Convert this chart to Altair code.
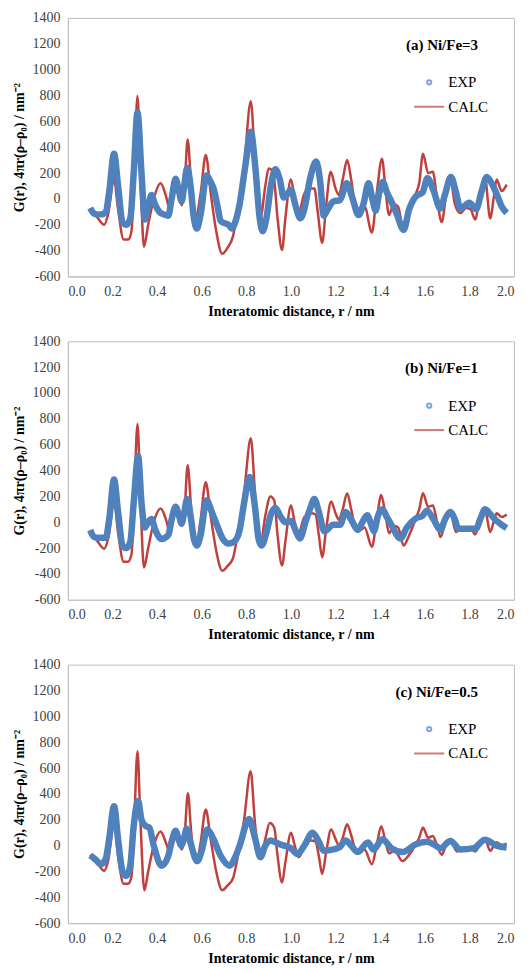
import altair as alt
import pandas as pd

# ---------------- data ----------------
x_ticks = [0.0, 0.2, 0.4, 0.6, 0.8, 1.0, 1.2, 1.4, 1.6, 1.8, 2.0]
y_ticks = [-600, -400, -200, 0, 200, 400, 600, 800, 1000, 1200, 1400]
series_names = ["EXP", "CALC"]
panel_labels = ["(a) Ni/Fe=3", "(b) Ni/Fe=1", "(c) Ni/Fe=0.5"]

# Panel (a) Ni/Fe=3
a_calc_r = [0.10, 0.13, 0.163, 0.18, 0.207, 0.225, 0.25, 0.27, 0.285, 0.295, 0.312, 0.325, 0.341, 0.36, 0.385, 0.416, 0.44, 0.457, 0.475, 0.49, 0.51, 0.522, 0.537, 0.553, 0.575, 0.595, 0.618, 0.64, 0.665, 0.692, 0.715, 0.74, 0.76, 0.79, 0.82, 0.84, 0.865, 0.885, 0.9, 0.92, 0.94, 0.96, 0.975, 1.0, 1.017, 1.035, 1.06, 1.08, 1.105, 1.12, 1.14, 1.158, 1.178, 1.2, 1.215, 1.232, 1.252, 1.27, 1.29, 1.31, 1.33, 1.363, 1.385, 1.408, 1.425, 1.44, 1.46, 1.48, 1.505, 1.53, 1.56, 1.575, 1.592, 1.615, 1.636, 1.655, 1.676, 1.695, 1.714, 1.735, 1.76, 1.785, 1.805, 1.826, 1.848, 1.87, 1.893, 1.91, 1.922, 1.945, 1.967]
a_calc_g = [-80, -140, -200, -120, 150, -80, -315, -315, -250, 50, 795, 200, -370, -200, 0, 120, 20, -80, 60, 110, -50, 60, 460, 100, -125, 40, 340, 50, -250, -425, -380, -290, -100, 250, 755, 250, -130, 100, 235, 210, -150, -395, -150, 150, 0, -100, 40, 80, 80, -100, -340, -50, 210, 80, 30, 150, 300, 150, -60, -80, -60, -260, 50, 310, 50, -125, -40, -60, -240, -120, 40, 120, 350, 200, 210, 0, -180, 20, 160, -40, -110, -70, -80, -160, 40, 160, -150, 20, 150, 60, 110]
a_exp_r = [0.10, 0.115, 0.13, 0.15, 0.17, 0.185, 0.207, 0.225, 0.245, 0.262, 0.28, 0.295, 0.312, 0.33, 0.345, 0.36, 0.375, 0.39, 0.41, 0.43, 0.45, 0.465, 0.483, 0.498, 0.51, 0.52, 0.535, 0.55, 0.565, 0.578, 0.595, 0.622, 0.64, 0.655, 0.67, 0.685, 0.705, 0.72, 0.735, 0.75, 0.77, 0.795, 0.82, 0.84, 0.86, 0.873, 0.89, 0.91, 0.93, 0.95, 0.968, 0.985, 1.0, 1.02, 1.042, 1.06, 1.085, 1.113, 1.13, 1.147, 1.165, 1.19, 1.22, 1.25, 1.275, 1.303, 1.325, 1.348, 1.365, 1.38, 1.395, 1.412, 1.43, 1.45, 1.475, 1.505, 1.53, 1.56, 1.59, 1.612, 1.64, 1.669, 1.69, 1.717, 1.74, 1.76, 1.8, 1.83, 1.855, 1.878, 1.9, 1.924, 1.945, 1.967]
a_exp_g = [-70, -110, -120, -120, -100, 50, 350, 100, -180, -200, -150, 200, 670, 200, -160, -60, 30, -40, -100, -120, -130, 0, 155, 60, -20, 80, 240, 100, -150, -230, -120, 180, 130, 70, -50, -170, -190, -200, -230, -180, -40, 250, 520, 250, -150, -250, -150, 100, 230, 150, 10, 40, 70, -50, -150, -80, 150, 290, 150, -130, -80, -20, -10, 120, 10, -125, -40, 120, 0, -90, 40, 130, 50, -20, -120, -240, -80, 20, 50, 160, 60, -75, 30, 170, 50, -75, -30, -80, 60, 170, 120, 30, -60, -110]

# Panel (b) Ni/Fe=1
b_calc_r = [0.10, 0.13, 0.163, 0.18, 0.207, 0.225, 0.25, 0.27, 0.285, 0.295, 0.312, 0.325, 0.341, 0.36, 0.385, 0.416, 0.44, 0.457, 0.475, 0.49, 0.51, 0.522, 0.537, 0.553, 0.575, 0.595, 0.618, 0.64, 0.665, 0.692, 0.715, 0.74, 0.76, 0.79, 0.82, 0.84, 0.865, 0.885, 0.908, 0.925, 0.94, 0.96, 0.975, 1.0, 1.017, 1.035, 1.06, 1.09, 1.11, 1.125, 1.14, 1.158, 1.18, 1.2, 1.215, 1.232, 1.252, 1.27, 1.29, 1.31, 1.33, 1.363, 1.385, 1.405, 1.425, 1.44, 1.46, 1.48, 1.505, 1.53, 1.56, 1.575, 1.592, 1.615, 1.636, 1.655, 1.67, 1.695, 1.714, 1.74, 1.77, 1.805, 1.826, 1.848, 1.87, 1.893, 1.91, 1.922, 1.945, 1.967]
b_calc_g = [-75, -140, -205, -130, 155, -80, -305, -305, -250, 50, 760, 200, -350, -200, 0, 106, 20, -80, 50, 100, -30, 60, 440, 100, -180, 20, 310, 50, -220, -375, -340, -280, -100, 230, 650, 200, -150, 50, 200, 170, -100, -335, -150, 130, 0, -80, 40, 70, 60, -100, -270, -50, 160, 70, 20, 100, 225, 100, -50, -60, -40, -190, 30, 210, 40, -85, -30, -40, -180, -100, 30, 100, 225, 120, 130, 0, -115, 20, 80, -75, -40, -40, -95, 20, 95, -75, 10, 70, 40, 60]
b_exp_r = [0.10, 0.115, 0.13, 0.15, 0.17, 0.185, 0.207, 0.225, 0.245, 0.262, 0.28, 0.295, 0.315, 0.33, 0.345, 0.36, 0.375, 0.39, 0.42, 0.45, 0.465, 0.483, 0.498, 0.51, 0.52, 0.535, 0.55, 0.565, 0.578, 0.595, 0.622, 0.645, 0.67, 0.695, 0.72, 0.745, 0.77, 0.79, 0.815, 0.84, 0.855, 0.868, 0.89, 0.91, 0.93, 0.955, 0.975, 1.0, 1.02, 1.04, 1.065, 1.085, 1.105, 1.125, 1.15, 1.19, 1.22, 1.245, 1.27, 1.3, 1.32, 1.342, 1.36, 1.372, 1.39, 1.41, 1.43, 1.45, 1.49, 1.52, 1.56, 1.59, 1.61, 1.64, 1.67, 1.69, 1.714, 1.735, 1.75, 1.78, 1.83, 1.85, 1.87, 1.895, 1.922, 1.945, 1.967]
b_exp_g = [-60, -110, -120, -120, -120, 20, 330, 80, -180, -200, -150, 150, 510, 150, -40, 0, 25, -50, -130, -100, 20, 120, 50, -10, 60, 180, 50, -130, -180, -100, 170, 80, -30, -130, -165, -150, -60, 150, 350, 100, -130, -180, -80, 60, 110, 40, 0, 10, -60, -125, 0, 100, 180, 80, -70, -20, -20, 80, 20, -60, 0, 55, -20, -70, 50, 100, 40, -20, -125, -40, 30, 50, 90, 20, -60, 20, 80, 20, -50, -50, -50, 30, 100, 60, 10, -20, -45]

# Panel (c) Ni/Fe=0.5
c_calc_r = [0.10, 0.13, 0.163, 0.18, 0.207, 0.225, 0.25, 0.27, 0.285, 0.295, 0.312, 0.325, 0.343, 0.36, 0.385, 0.416, 0.44, 0.457, 0.475, 0.49, 0.51, 0.522, 0.538, 0.553, 0.575, 0.595, 0.618, 0.64, 0.665, 0.692, 0.715, 0.74, 0.76, 0.79, 0.819, 0.84, 0.865, 0.885, 0.905, 0.925, 0.94, 0.96, 0.975, 1.0, 1.017, 1.035, 1.06, 1.09, 1.11, 1.125, 1.14, 1.158, 1.18, 1.2, 1.215, 1.232, 1.252, 1.27, 1.29, 1.31, 1.33, 1.363, 1.385, 1.405, 1.425, 1.44, 1.465, 1.5, 1.53, 1.56, 1.575, 1.592, 1.615, 1.636, 1.655, 1.676, 1.695, 1.714, 1.745, 1.78, 1.805, 1.826, 1.848, 1.87, 1.893, 1.91, 1.922, 1.945, 1.967]
c_calc_g = [-70, -130, -195, -120, 165, -80, -295, -295, -240, 50, 730, 200, -345, -200, 0, 110, 20, -50, 40, 80, -30, 50, 405, 100, -135, 20, 280, 50, -200, -345, -310, -255, -100, 200, 575, 150, -100, 50, 175, 140, -80, -285, -130, 100, 0, -90, 0, 40, 30, -80, -220, -50, 125, 50, 0, 60, 165, 80, -30, -40, -30, -145, 10, 150, 20, -60, -40, -120, -70, 10, 60, 140, 60, 75, 0, -70, 0, 40, -45, -25, -25, -45, 10, 50, -40, 0, 25, 5, 15]
c_exp_r = [0.10, 0.125, 0.148, 0.17, 0.185, 0.207, 0.225, 0.245, 0.262, 0.28, 0.295, 0.315, 0.33, 0.35, 0.365, 0.385, 0.42, 0.45, 0.465, 0.483, 0.498, 0.507, 0.52, 0.532, 0.55, 0.58, 0.6, 0.625, 0.65, 0.685, 0.725, 0.75, 0.77, 0.812, 0.84, 0.863, 0.885, 0.908, 0.95, 1.0, 1.03, 1.06, 1.097, 1.125, 1.147, 1.19, 1.22, 1.245, 1.27, 1.3, 1.345, 1.37, 1.41, 1.45, 1.5, 1.56, 1.61, 1.64, 1.67, 1.714, 1.76, 1.82, 1.87, 1.922, 1.967]
c_exp_g = [-75, -110, -145, -100, 50, 305, 50, -200, -235, -150, 150, 345, 200, 150, 140, 0, -155, -80, 30, 115, 40, 0, 50, 130, 20, -120, -40, 125, 60, -80, -155, -90, 0, 205, 50, -90, 0, 40, 10, -20, -65, 0, 100, 30, -40, -30, -10, 40, 0, -50, 25, -30, 50, -20, -50, 10, 30, 10, -20, 35, -30, -20, 45, 0, -15]

# ---------------- styling ----------------
BLUE = "#4F81BD"
RED = "#C0403D"
SERIF = "Liberation Serif"
Y_TITLE = "G(r), 4\u03c0r(\u03c1\u2013\u03c1\u2080) / nm\u207b\u00b2"
X_TITLE = "Interatomic distance, r / nm"
PW, PH = 447, 259


def make_panel(calc_r, calc_g, exp_r, exp_g, label):
    df = pd.concat([
        pd.DataFrame({"r": calc_r, "g": calc_g, "series": "CALC"}),
        pd.DataFrame({"r": exp_r, "g": exp_g, "series": "EXP"}),
    ], ignore_index=True)
    base = alt.Chart(df)
    x = alt.X("r:Q", scale=alt.Scale(domain=[0, 2]),
              axis=alt.Axis(values=x_ticks, format=".1f", title=X_TITLE))
    y = alt.Y("g:Q", scale=alt.Scale(domain=[-600, 1400]),
              axis=alt.Axis(values=y_ticks, labelExpr="datum.value + ''", title=Y_TITLE))

    calc = base.transform_filter(alt.datum.series == "CALC").mark_line(
        color=RED, strokeWidth=2.5, interpolate="monotone").encode(x=x, y=y)
    exp = base.transform_filter(alt.datum.series == "EXP").mark_line(
        color=BLUE, strokeWidth=6.5, interpolate="monotone").encode(x=x, y=y)

    leg_props = dict(orient="none", legendX=346, legendY=57, title=None,
                     labelFont=SERIF, labelFontSize=15, labelColor="#000000",
                     symbolStrokeWidth=2.0, rowPadding=-6, labelOffset=3)
    leg = base.transform_filter("false").mark_point(filled=False).encode(
        x=x, y=y,
        color=alt.Color("series:N", scale=alt.Scale(domain=series_names, range=[BLUE, RED]),
                        legend=alt.Legend(**leg_props)),
        shape=alt.Shape("series:N", scale=alt.Scale(domain=series_names, range=["circle", "stroke"]),
                        legend=alt.Legend(**leg_props)),
        size=alt.Size("series:N", scale=alt.Scale(domain=series_names, range=[18, 900]),
                      legend=alt.Legend(**leg_props)),
    )
    txt = alt.Chart(pd.DataFrame({"label": [label]})).mark_text(
        align="right", baseline="middle", font=SERIF, fontSize=15, fontWeight="bold", color="#000000"
    ).encode(x=alt.value(411), y=alt.value(27), text="label:N")

    return alt.layer(calc, exp, leg, txt).properties(width=PW, height=PH)


panels = [
    make_panel(a_calc_r, a_calc_g, a_exp_r, a_exp_g, panel_labels[0]),
    make_panel(b_calc_r, b_calc_g, b_exp_r, b_exp_g, panel_labels[1]),
    make_panel(c_calc_r, c_calc_g, c_exp_r, c_exp_g, panel_labels[2]),
]

chart = alt.vconcat(*panels, spacing=14).resolve_scale(
    color="independent", shape="independent", size="independent"
).properties(
    padding={"left": 4, "top": 1, "right": 0, "bottom": 0}
).configure_view(
    stroke="#bfbfbf", strokeWidth=1
).configure_axis(
    labelFont=SERIF, labelFontSize=14, labelColor="#404040",
    titleFont=SERIF, titleFontSize=14, titleFontWeight="bold", titleColor="#000000",
    domainColor="#bfbfbf", tickSize=0, grid=False, labelPadding=8,
).configure_axisY(
    titleFontSize=14, titlePadding=5,
).configure_axisX(
    titlePadding=6,
)

chart.save("out.html", embed_options={"renderer": "svg", "actions": False})
